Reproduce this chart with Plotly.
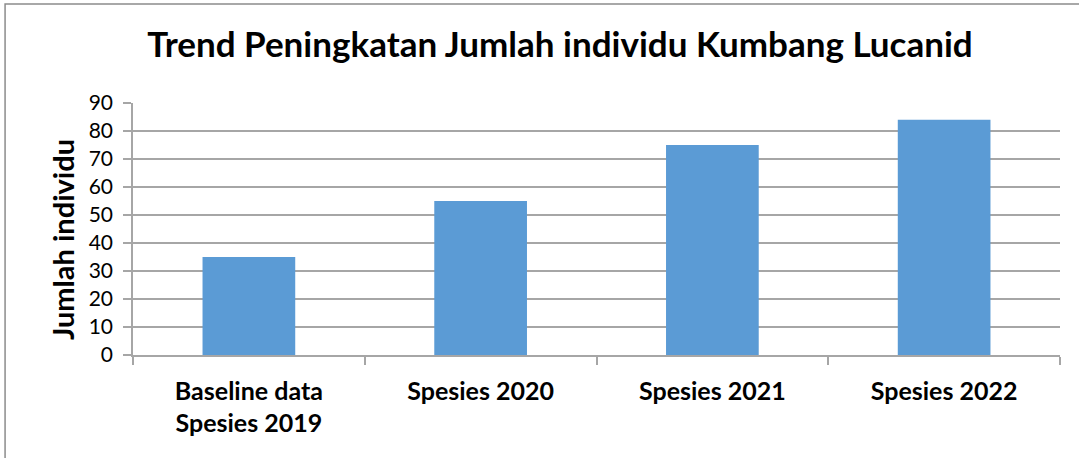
import plotly.graph_objects as go

categories = ["Baseline data<br>Spesies 2019", "Spesies 2020", "Spesies 2021", "Spesies 2022"]
values = [35, 55, 75, 84]
y_ticks = [0, 10, 20, 30, 40, 50, 60, 70, 80, 90]

FONT = "Lato, 'Open Sans', sans-serif"
GRID = "#a6a6a6"

fig = go.Figure()

fig.add_trace(go.Bar(
    x=categories,
    y=values,
    marker=dict(color="#5b9bd5", line=dict(width=0)),
    hovertemplate="%{x}: %{y}<extra></extra>",
))

# chart frame (only left/top edges visible in the original crop)
fig.add_shape(
    type="rect", xref="paper", yref="paper",
    x0=-0.138, x1=1.2, y0=-0.6, y1=1.393,
    line=dict(color="#8c8c8c", width=1.5),
    layer="below",
)

fig.add_annotation(
    text="<b>Jumlah individu</b>",
    xref="paper", yref="paper",
    x=-0.0766, y=0.46,
    textangle=-90,
    showarrow=False,
    xanchor="center", yanchor="middle",
    font=dict(family=FONT, size=29, color="#000000"),
)

fig.update_layout(
    width=1079,
    height=458,
    paper_bgcolor="#ffffff",
    plot_bgcolor="#ffffff",
    title=dict(
        text="<b>Trend Peningkatan Jumlah individu Kumbang Lucanid</b>",
        x=0.519, xanchor="center",
        y=0.902, yanchor="middle",
        font=dict(family=FONT, size=35, color="#000000"),
    ),
    xaxis=dict(
        type="category",
        showline=True,
        linecolor=GRID,
        linewidth=1.5,
        ticks="outside",
        tickson="boundaries",
        ticklen=8,
        tickcolor=GRID,
        tickwidth=1.5,
        tickvals=categories,
        ticktext=[f"<b>{c}</b>" for c in categories],
        tickfont=dict(family=FONT, size=25, color="#000000"),
        ticklabelstandoff=13,
        showgrid=False,
    ),
    yaxis=dict(
        range=[0, 90],
        tickvals=y_ticks,
        showline=True,
        linecolor=GRID,
        linewidth=1.5,
        ticks="outside",
        ticklen=8,
        tickcolor=GRID,
        tickwidth=1.5,
        showgrid=True,
        gridcolor=GRID,
        gridwidth=1.5,
        zeroline=False,
        tickfont=dict(family=FONT, size=21, color="#000000"),
        ticklabelstandoff=6,
    ),
    bargap=0.6,
    showlegend=False,
    margin=dict(l=133, r=19, t=103, b=103),
)

fig.write_html(
    "out.html",
    config={"displayModeBar": False},
    post_script="document.body.style.margin='0';",
)
